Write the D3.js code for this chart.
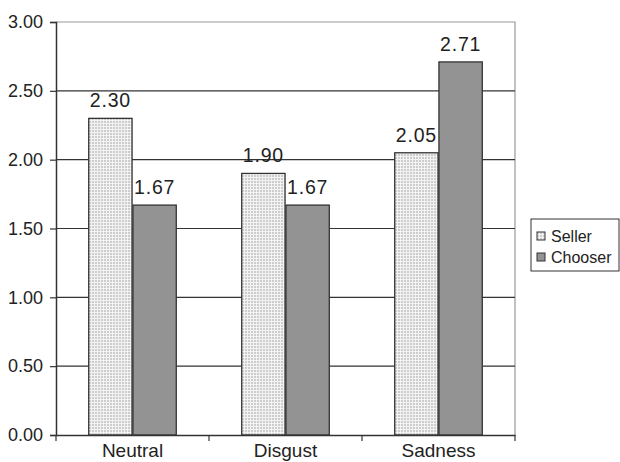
<!DOCTYPE html>
<html>
<head>
<meta charset="utf-8">
<script src="https://cdn.jsdelivr.net/npm/d3@7"></script>
<style>
  body { margin: 0; background: #fff; }
  text { font-family: "Liberation Sans", Arial, sans-serif; fill: #222; }
</style>
</head>
<body>
<div class="canvas"></div>
<script>
// chart values
const categories = ["Neutral", "Disgust", "Sadness"];
const seriesNames = ["Seller", "Chooser"];
const sellerValues = [2.30, 1.90, 2.05];
const chooserValues = [1.67, 1.67, 2.71];
const yTicks = [0, 0.5, 1, 1.5, 2, 2.5, 3];

const svgWidth = 620, svgHeight = 462;
const margin = {top: 22, right: 105, bottom: 27, left: 56};
const graphWidth = svgWidth - margin.left - margin.right;
const graphHeight = svgHeight - margin.top - margin.bottom;

const svg = d3.select(".canvas").append("svg")
  .attr("width", svgWidth)
  .attr("height", svgHeight);

// dotted pattern for the seller bars
const defs = svg.append("defs");
const pat = defs.append("pattern")
  .attr("id", "stipple")
  .attr("width", 3).attr("height", 3)
  .attr("patternUnits", "userSpaceOnUse");
pat.append("rect").attr("width", 3).attr("height", 3).attr("fill", "#f3f3f3");
pat.append("rect").attr("width", 2).attr("height", 2).attr("fill", "#cdcdcd")
  .attr("shape-rendering", "crispEdges");

const fills = {Seller: "url(#stipple)", Chooser: "#939393"};

const graph = svg.append("g")
  .attr("transform", `translate(${margin.left},${margin.top})`);

const x = d3.scaleBand()
  .domain(categories)
  .range([0, graphWidth]);

const xInner = d3.scaleBand()
  .domain(seriesNames)
  .range([0, x.bandwidth()])
  .paddingOuter(0.74)
  .paddingInner(0.02);

const y = d3.scaleLinear()
  .domain([0, 3])
  .range([graphHeight, 0]);

// plot area border (top and right, light)
graph.append("path")
  .attr("d", `M0,0H${graphWidth}V${graphHeight}`)
  .attr("fill", "none")
  .attr("stroke", "#9a9a9a")
  .attr("stroke-width", 1.2);

// gridlines
graph.selectAll(".grid")
  .data(yTicks.filter(d => d > 0 && d < 3))
  .enter().append("line")
    .attr("x1", 0).attr("x2", graphWidth)
    .attr("y1", d => y(d)).attr("y2", d => y(d))
    .attr("stroke", "#333")
    .attr("stroke-width", 1.2);

// bars
const rows = categories.map((c, i) => ({cat: c, values: [
  {name: "Seller", value: sellerValues[i]},
  {name: "Chooser", value: chooserValues[i]}
]}));

const groups = graph.selectAll(".grp")
  .data(rows)
  .enter().append("g")
    .attr("transform", d => `translate(${x(d.cat)},0)`);

groups.selectAll("rect")
  .data(d => d.values)
  .enter().append("rect")
    .attr("x", d => xInner(d.name))
    .attr("y", d => y(d.value))
    .attr("width", xInner.bandwidth())
    .attr("height", d => graphHeight - y(d.value))
    .attr("fill", d => fills[d.name])
    .attr("stroke", "#333")
    .attr("stroke-width", 1.3);

groups.selectAll(".lbl")
  .data(d => d.values)
  .enter().append("text")
    .attr("x", d => xInner(d.name) + xInner.bandwidth() / 2)
    .attr("y", d => y(d.value) - 11)
    .attr("text-anchor", "middle")
    .style("font-size", "19.5px")
    .style("letter-spacing", "0.8px")
    .text(d => d3.format(".2f")(d.value));

// y axis
const yAxis = graph.append("g")
  .call(d3.axisLeft(y).tickValues(yTicks).tickFormat(d3.format(".2f")).tickSize(6).tickPadding(7));
yAxis.select(".domain").attr("stroke", "#333").attr("stroke-width", 1.5);
yAxis.selectAll("line").attr("stroke", "#333").attr("stroke-width", 1.2);
yAxis.selectAll("text").style("font-size", "18px").style("font-family", "Liberation Sans, Arial, sans-serif").attr("fill", "#222");

// x axis
const xAxis = graph.append("g")
  .attr("transform", `translate(0,${graphHeight})`)
  .call(d3.axisBottom(x).tickSize(0).tickPadding(9));
xAxis.select(".domain").attr("stroke", "#333").attr("stroke-width", 1.5);
xAxis.selectAll("text").style("font-size", "19px").style("font-family", "Liberation Sans, Arial, sans-serif").attr("fill", "#222");

// category boundary ticks
xAxis.selectAll(".bound")
  .data(d3.range(categories.length + 1))
  .enter().append("line")
    .attr("x1", i => i * x.step()).attr("x2", i => i * x.step())
    .attr("y1", 0).attr("y2", 6)
    .attr("stroke", "#333")
    .attr("stroke-width", 1.2);

// legend
const legend = svg.append("g").attr("transform", "translate(531,219)");
legend.append("rect")
  .attr("width", 88).attr("height", 52)
  .attr("fill", "#fff")
  .attr("stroke", "#333")
  .attr("stroke-width", 1);
seriesNames.forEach((s, i) => {
  const row = legend.append("g").attr("transform", `translate(6,${13 + i * 21})`);
  row.append("rect")
    .attr("width", 8).attr("height", 8)
    .attr("fill", fills[s])
    .attr("stroke", "#333")
    .attr("stroke-width", 1);
  row.append("text")
    .attr("x", 14).attr("y", 9.5)
    .style("font-size", "16px")
    .text(s);
});
</script>
</body>
</html>
